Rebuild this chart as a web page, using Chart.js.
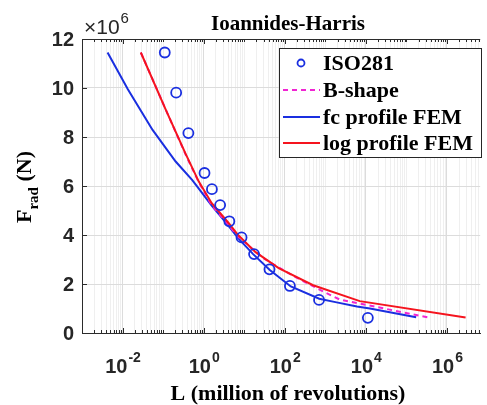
<!DOCTYPE html>
<html>
<head>
<meta charset="utf-8">
<script src="https://cdn.jsdelivr.net/npm/chart.js@4/dist/chart.umd.min.js"></script>
<style>
  html, body { margin: 0; padding: 0; background: #fff; }
  #wrap { width: 487px; height: 405px; }
</style>
</head>
<body>
<div id="wrap"><canvas id="chart_fatigue"></canvas></div>
<script>
// ISO281 points (L in million revolutions, F in 1e6 N)
const isoL = [0.11, 0.21, 0.42, 1.05, 1.6, 2.55, 4.3, 8.6, 17.5, 42, 134, 700, 11200];
const isoF = [11.45, 9.81, 8.16, 6.53, 5.87, 5.22, 4.56, 3.9, 3.22, 2.6, 1.92, 1.35, 0.62];

// B-shape
const bL = [0.0282, 0.1175, 0.355, 0.759, 1.58, 4.07, 7.08, 31.6, 174, 1000, 2239, 380000];
const bF = [11.45, 9.1, 7.3, 6.15, 5.22, 4.42, 3.93, 3.02, 2.3, 1.65, 1.37, 0.62];

// fc profile FEM
const fcL = [0.00427, 0.0135, 0.055, 0.204, 0.525, 1.58, 4.07, 7.08, 16.6, 42.7, 141, 708, 1778, 6026, 12590, 173800];
const fcF = [11.45, 9.95, 8.29, 7.0, 6.24, 5.2, 4.38, 3.87, 3.22, 2.57, 1.9, 1.4, 1.26, 1.08, 1.0, 0.64];

// log profile FEM
const logL = [0.0282, 0.1175, 0.355, 0.759, 1.58, 4.07, 7.08, 19.05, 70.8, 501, 7079, 2880000];
const logF = [11.45, 9.1, 7.33, 6.18, 5.3, 4.5, 4.0, 3.3, 2.65, 1.95, 1.3, 0.63];

const labels = ["ISO281", "B-shape", "fc profile FEM", "log profile FEM"];
const xTickPowers = [-2, 0, 2, 4, 6];
const yTicks = [0, 2, 4, 6, 8, 10, 12];

const zip = (xs, ys) => xs.map((x, i) => ({ x: x, y: ys[i] }));

const BLUE = "#1a2fe0";
const RED = "#f5141e";
const MAGENTA = "#f025d2";
const AXIS = "#2b2b2b";

// all decade + minor positions for the grid
const gridTicks = [];
for (let p = -3; p <= 6; p++) {
    for (let m = 1; m <= 9; m++) gridTicks.push(m * Math.pow(10, p));
}
const isMajor = (v) => {
    const lg = Math.log10(v);
    return Math.abs(lg - Math.round(lg)) < 1e-6 && Math.round(lg) % 2 === 0;
};

const $chart = document.getElementById("chart_fatigue");

function supText(ctx, base, sup, x, y, bigFont, smallFont, supRise, align) {
    ctx.font = bigFont;
    const w1 = ctx.measureText(base).width;
    ctx.font = smallFont;
    const w2 = ctx.measureText(sup).width;
    let x0 = x;
    if (align === "center") x0 = x - (w1 + w2) / 2;
    ctx.textAlign = "left";
    ctx.font = bigFont;
    ctx.fillText(base, x0, y);
    ctx.font = smallFont;
    ctx.fillText(sup, x0 + w1 + 1, y - supRise);
}

const decor = {
    id: "decor",
    afterDraw(chart) {
        const ctx = chart.ctx;
        const area = chart.chartArea;
        const xs = chart.scales.x;
        const ys = chart.scales.y;
        ctx.save();

        // top box line
        ctx.strokeStyle = AXIS;
        ctx.lineWidth = 1;
        ctx.beginPath();
        ctx.moveTo(area.left, area.top + 0.5);
        ctx.lineTo(area.right, area.top + 0.5);
        ctx.stroke();

        // inward ticks
        ctx.beginPath();
        gridTicks.forEach((v) => {
            if (v < xs.min || v > xs.max) return;
            const px = Math.round(xs.getPixelForValue(v)) + 0.5;
            const len = isMajor(v) ? 5 : 3;
            ctx.moveTo(px, area.bottom);
            ctx.lineTo(px, area.bottom - len);
            ctx.moveTo(px, area.top);
            ctx.lineTo(px, area.top + len);
        });
        yTicks.forEach((v) => {
            const py = Math.round(ys.getPixelForValue(v)) + 0.5;
            ctx.moveTo(area.left, py);
            ctx.lineTo(area.left + 5, py);
        });
        ctx.stroke();

        // y tick labels
        ctx.fillStyle = "#262626";
        ctx.font = "bold 20px 'Liberation Sans', Arial, sans-serif";
        ctx.textAlign = "right";
        ctx.textBaseline = "middle";
        yTicks.forEach((v) => {
            ctx.fillText(String(v), area.left - 8, ys.getPixelForValue(v) + 1);
        });

        // x tick labels 10^n
        ctx.textBaseline = "alphabetic";
        xTickPowers.forEach((p) => {
            const px = xs.getPixelForValue(Math.pow(10, p));
            supText(ctx, "10", String(p), px, 373,
                "bold 20px 'Liberation Sans', Arial, sans-serif",
                "bold 14px 'Liberation Sans', Arial, sans-serif", 11, "center");
        });

        // x10^6 multiplier
        supText(ctx, "\u00d710", "6", 84, 34,
            "21px 'Liberation Sans', Arial, sans-serif",
            "15px 'Liberation Sans', Arial, sans-serif", 11, "left");

        // title
        ctx.fillStyle = "#000";
        ctx.font = "bold 21px 'Liberation Serif', 'Times New Roman', serif";
        ctx.textAlign = "center";
        ctx.fillText("Ioannides-Harris", 288, 30);

        // x title
        ctx.font = "bold 22px 'Liberation Serif', 'Times New Roman', serif";
        ctx.fillText("L (million of revolutions)", 288, 400);

        // y title, rotated
        ctx.save();
        ctx.translate(31, 187);
        ctx.rotate(-Math.PI / 2);
        const fBig = "bold 22px 'Liberation Serif', 'Times New Roman', serif";
        const fSub = "bold 15px 'Liberation Serif', 'Times New Roman', serif";
        ctx.font = fBig;
        const wF = ctx.measureText("F").width;
        const wN = ctx.measureText(" (N)").width;
        ctx.font = fSub;
        const wR = ctx.measureText("rad").width;
        let x0 = -(wF + wR + wN) / 2;
        ctx.textAlign = "left";
        ctx.font = fBig;
        ctx.fillText("F", x0, 0);
        ctx.font = fSub;
        ctx.fillText("rad", x0 + wF, 7);
        ctx.font = fBig;
        ctx.fillText(" (N)", x0 + wF + wR, 0);
        ctx.restore();

        // legend
        const lx = 279.5, ly = 48.5, lw = 202, lh = 109;
        ctx.fillStyle = "#fff";
        ctx.fillRect(lx, ly, lw, lh);
        ctx.strokeStyle = "#262626";
        ctx.lineWidth = 1;
        ctx.strokeRect(lx, ly, lw, lh);
        const rows = [63, 90, 117, 143];
        ctx.textAlign = "left";
        ctx.textBaseline = "middle";
        ctx.font = "bold 22px 'Liberation Serif', 'Times New Roman', serif";
        chart.data.datasets.forEach((ds, i) => {
            const cy = rows[i];
            ctx.lineWidth = ds.borderWidth;
            ctx.strokeStyle = ds.borderColor;
            if (i === 0) {
                ctx.beginPath();
                ctx.arc(301, cy, 3.5, 0, Math.PI * 2);
                ctx.stroke();
            } else {
                ctx.setLineDash(ds.borderDash || []);
                ctx.beginPath();
                ctx.moveTo(283, cy);
                ctx.lineTo(320, cy);
                ctx.stroke();
                ctx.setLineDash([]);
            }
            ctx.fillStyle = "#000";
            ctx.fillText(ds.label, 323, cy + 1);
        });

        ctx.restore();
    },
};

new Chart($chart, {
    type: "scatter",
    data: {
        datasets: [
            {
                label: labels[0],
                data: zip(isoL, isoF),
                showLine: false,
                pointStyle: "circle",
                pointRadius: 5,
                pointBorderWidth: 1.8,
                borderWidth: 1.8,
                borderColor: BLUE,
                backgroundColor: "rgba(0,0,0,0)",
                order: 0,
            },
            {
                label: labels[1],
                data: zip(bL, bF),
                showLine: true,
                borderColor: MAGENTA,
                borderWidth: 2,
                borderDash: [5, 4],
                pointRadius: 0,
                order: 2,
            },
            {
                label: labels[2],
                data: zip(fcL, fcF),
                showLine: true,
                borderColor: BLUE,
                borderWidth: 2,
                pointRadius: 0,
                order: 3,
            },
            {
                label: labels[3],
                data: zip(logL, logF),
                showLine: true,
                borderColor: RED,
                borderWidth: 2,
                pointRadius: 0,
                order: 1,
            },
        ],
    },
    options: {
        responsive: true,
        maintainAspectRatio: false,
        animation: false,
        events: [],
        layout: {
            padding: { left: 82, top: 39, right: 0, bottom: 72 },
        },
        plugins: {
            legend: { display: false },
            tooltip: { enabled: false },
        },
        scales: {
            x: {
                type: "logarithmic",
                min: 0.001,
                max: 6.6e6,
                afterBuildTicks: (scale) => {
                    scale.ticks = gridTicks
                        .filter((v) => v >= 0.001 && v <= 6.6e6)
                        .map((v) => ({ value: v }));
                },
                ticks: { display: false },
                grid: {
                    drawTicks: false,
                    color: (c) => (c.tick && isMajor(c.tick.value) ? "#dcdcdc" : "#efefef"),
                    lineWidth: 1,
                },
                border: { color: AXIS, width: 1 },
            },
            y: {
                min: 0,
                max: 12,
                ticks: { display: false, stepSize: 2 },
                grid: { drawTicks: false, color: "#dcdcdc" },
                border: { color: AXIS, width: 1 },
            },
        },
    },
    plugins: [decor],
});
</script>
</body>
</html>
